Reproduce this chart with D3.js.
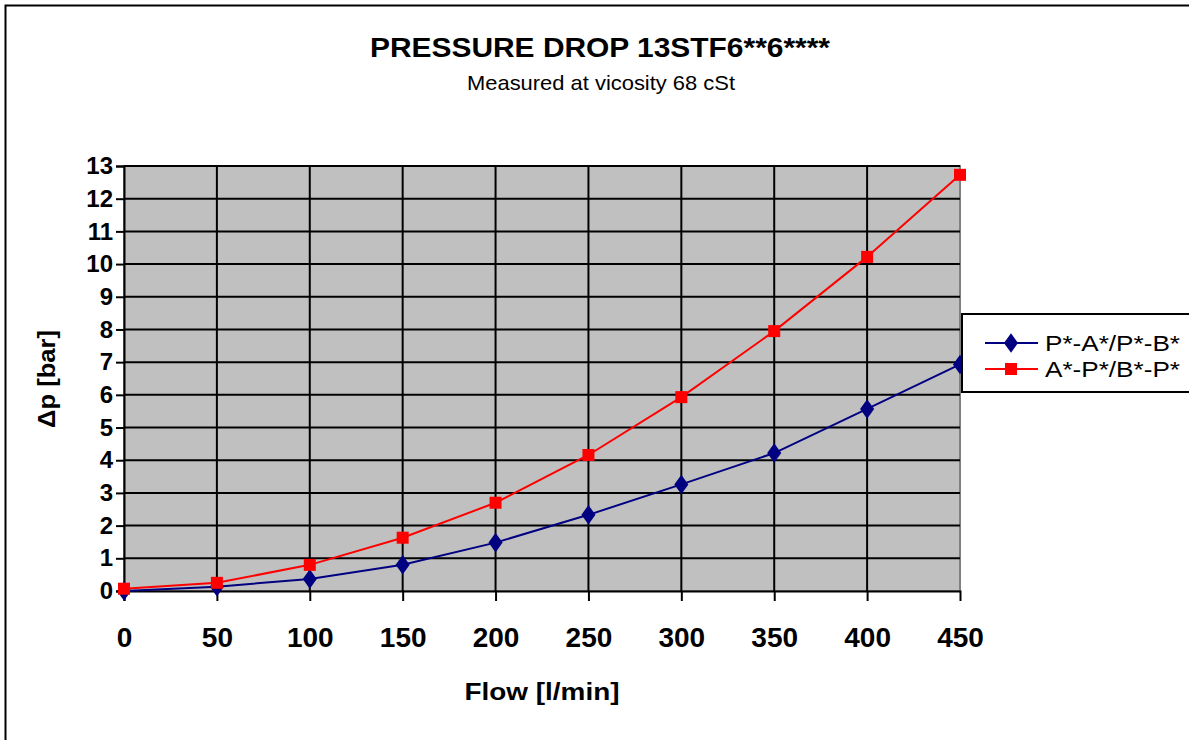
<!DOCTYPE html>
<html lang="en">
<head>
  <meta charset="UTF-8">
  <title>Pressure Drop 13STF6**6****</title>
  <script src="https://d3js.org/d3.v7.min.js"></script>
  <style>
    body { margin: 0; background: white; font-family: 'Liberation Sans', Arial, sans-serif; }
    svg { display: block; }
  </style>
</head>
<body>
  <div id="chart"></div>
  <script>
    const flow = [0, 50, 100, 150, 200, 250, 300, 350, 400, 450];
    const pToAB = [0, 0.13, 0.37, 0.8, 1.48, 2.33, 3.26, 4.22, 5.57, 6.93];
    const abToP = [0.07, 0.25, 0.8, 1.63, 2.7, 4.16, 5.93, 7.95, 10.22, 12.73];
    const seriesNames = ["P*-A*/P*-B*", "A*-P*/B*-P*"];
    const yTicks = d3.range(0, 14);

    const W = 1189, H = 740;
    const m = { left: 124, top: 166, right: 960, bottom: 591 };
    const font = "'Liberation Sans', Arial, sans-serif";

    const svg = d3.select("#chart").append("svg").attr("width", W).attr("height", H)
      .attr("font-family", font);

    // outer frame (only top/left visible in the crop)
    svg.append("rect").attr("x", 5.5).attr("y", 5.5).attr("width", W + 10).attr("height", H + 10)
      .attr("fill", "none").attr("stroke", "black").attr("stroke-width", 2);

    const x = d3.scaleLinear().domain([0, 450]).range([m.left, m.right]);
    const y = d3.scaleLinear().domain([0, 13]).range([m.bottom, m.top]);

    // plot background
    svg.append("rect").attr("x", m.left).attr("y", m.top)
      .attr("width", m.right - m.left).attr("height", m.bottom - m.top)
      .attr("fill", "#c0c0c0").attr("stroke", "#808080").attr("stroke-width", 2);

    // gridlines
    svg.append("g").selectAll("line").data(yTicks.slice(1)).enter().append("line")
      .attr("x1", m.left).attr("x2", m.right)
      .attr("y1", d => y(d)).attr("y2", d => y(d))
      .attr("stroke", "black").attr("stroke-width", 2);
    svg.append("g").selectAll("line").data(flow.slice(1, -1)).enter().append("line")
      .attr("x1", d => x(d)).attr("x2", d => x(d))
      .attr("y1", m.top).attr("y2", m.bottom)
      .attr("stroke", "black").attr("stroke-width", 2);

    // axes
    const yAxis = svg.append("g").attr("transform", `translate(${m.left},0)`)
      .call(d3.axisLeft(y).tickValues(yTicks).tickSize(8).tickPadding(3));
    const xAxis = svg.append("g").attr("transform", `translate(0,${m.bottom})`)
      .call(d3.axisBottom(x).tickValues(flow).tickSize(10).tickPadding(26));
    [yAxis, xAxis].forEach(a => {
      a.attr("font-family", font);
      a.select(".domain").attr("stroke", "black").attr("stroke-width", 2);
      a.selectAll(".tick line").attr("stroke", "black").attr("stroke-width", 2);
      a.selectAll("text").attr("fill", "black").attr("font-weight", "bold");
    });
    yAxis.selectAll("text").attr("font-size", 24);
    xAxis.selectAll("text").attr("font-size", 28);
    xAxis.select(".tick:last-of-type line").attr("stroke-width", 1);

    // lines
    const line = d3.line().x((d, i) => x(flow[i])).y(d => y(d));
    svg.append("path").datum(pToAB).attr("d", line)
      .attr("fill", "none").attr("stroke", "#000080").attr("stroke-width", 2);
    svg.append("path").datum(abToP).attr("d", line)
      .attr("fill", "none").attr("stroke", "#ff0000").attr("stroke-width", 2);

    const diamond = d3.symbol().type(d3.symbolDiamond).size(110);
    svg.append("g").selectAll("path").data(pToAB).enter().append("path")
      .attr("d", diamond)
      .attr("transform", (d, i) => `translate(${x(flow[i])},${y(d)}) scale(1.25,1)`)
      .attr("fill", "#000080");
    svg.append("g").selectAll("rect").data(abToP).enter().append("rect")
      .attr("x", (d, i) => x(flow[i]) - 6).attr("y", d => y(d) - 6)
      .attr("width", 12).attr("height", 12).attr("fill", "#ff0000");

    // titles
    svg.append("text").attr("x", 600).attr("y", 57).attr("text-anchor", "middle")
      .attr("font-size", 27).attr("font-weight", "bold")
      .attr("textLength", 460).attr("lengthAdjust", "spacingAndGlyphs")
      .text("PRESSURE DROP 13STF6**6****");
    svg.append("text").attr("x", 601).attr("y", 90).attr("text-anchor", "middle")
      .attr("font-size", 21)
      .attr("textLength", 268).attr("lengthAdjust", "spacingAndGlyphs")
      .text("Measured at vicosity 68 cSt");
    svg.append("text").attr("x", 542).attr("y", 700).attr("text-anchor", "middle")
      .attr("font-size", 23).attr("font-weight", "bold")
      .attr("textLength", 155).attr("lengthAdjust", "spacingAndGlyphs")
      .text("Flow [l/min]");
    svg.append("text").attr("transform", "translate(55,379) rotate(-90)").attr("text-anchor", "middle")
      .attr("font-size", 24).attr("font-weight", "bold")
      .attr("textLength", 98).attr("lengthAdjust", "spacingAndGlyphs")
      .text("Δp [bar]");

    // legend
    const lg = svg.append("g").attr("transform", "translate(962,314)");
    lg.append("rect").attr("x", 0).attr("y", 0).attr("width", 240).attr("height", 78)
      .attr("fill", "white").attr("stroke", "black").attr("stroke-width", 2);
    const colors = ["#000080", "#ff0000"];
    seriesNames.forEach((name, i) => {
      const cy = 29 + i * 26;
      lg.append("line").attr("x1", 23).attr("x2", 76).attr("y1", cy).attr("y2", cy)
        .attr("stroke", colors[i]).attr("stroke-width", 2);
      if (i === 0) {
        lg.append("path").attr("d", diamond).attr("transform", `translate(49,${cy}) scale(1.25,1)`)
          .attr("fill", colors[i]);
      } else {
        lg.append("rect").attr("x", 43).attr("y", cy - 6).attr("width", 12).attr("height", 12)
          .attr("fill", colors[i]);
      }
      lg.append("text").attr("x", 83).attr("y", cy + 8).attr("font-size", 22)
        .attr("textLength", 135).attr("lengthAdjust", "spacingAndGlyphs").text(name);
    });
  </script>
</body>
</html>
